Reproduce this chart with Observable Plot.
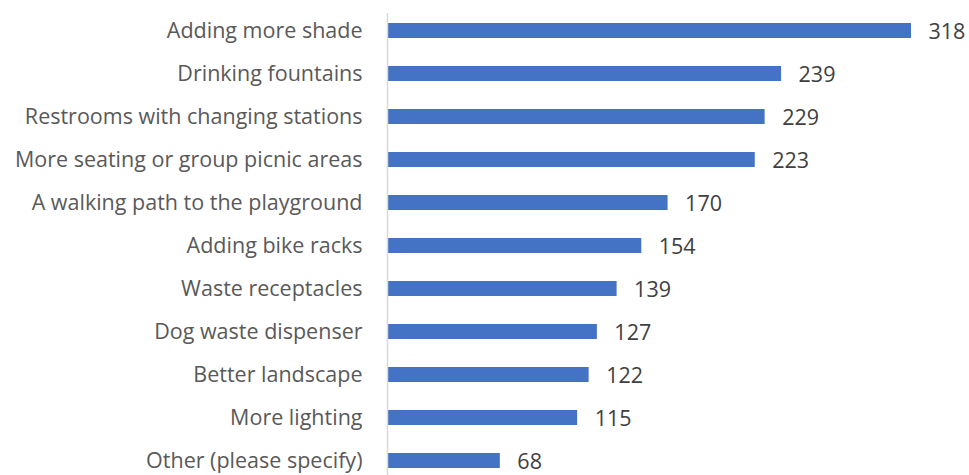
<!DOCTYPE html>
<html>
<head>
<meta charset="utf-8">
<script src="https://cdn.jsdelivr.net/npm/d3@7"></script>
<script src="https://cdn.jsdelivr.net/npm/@observablehq/plot@0.6"></script>
<style>
  html, body { margin: 0; padding: 0; background: #fff; overflow: hidden; }
  #chart svg { display: block; }
</style>
</head>
<body>
<div id="chart"></div>
<script>
const categories = [
  "Adding more shade",
  "Drinking fountains",
  "Restrooms with changing stations",
  "More seating or group picnic areas",
  "A walking path to the playground",
  "Adding bike racks",
  "Waste receptacles",
  "Dog waste dispenser",
  "Better landscape",
  "More lighting",
  "Other (please specify)"
];
const values = [318, 239, 229, 223, 170, 154, 139, 127, 122, 115, 68];

const data = categories.map((c, i) => ({category: c, value: values[i]}));

const fontFamily = "'Open Sans', 'Noto Sans', sans-serif";

const chart = Plot.plot({
  width: 969,
  height: 475,
  marginTop: 13,
  marginBottom: 0,
  marginLeft: 388,
  marginRight: 58,
  style: {fontFamily, fontSize: "21.5px", color: "#595959", background: "#fff"},
  x: {domain: [0, 318], range: [388, 911], axis: null},
  y: {domain: categories, range: [9, 9 + 43.05 * 11], paddingInner: 0.65, paddingOuter: 0.325, axis: null},
  marks: [
    Plot.barX(data, {x: "value", y: "category", fill: "#4472C4"}),
    Plot.ruleX([0], {stroke: "#d9d9d9", strokeWidth: 1.5, dx: -1}),
    Plot.axisY({
      tickSize: 0,
      tickPadding: 26,
      fontSize: 21.5,
      fill: "#595959",
      label: null
    }),
    Plot.text(data, {
      x: "value", y: "category", text: d => String(d.value),
      textAnchor: "start", dx: 17, dy: 1, fontSize: 21.5, fill: "#404040"
    })
  ]
});
document.getElementById("chart").appendChild(chart);
</script>
</body>
</html>
